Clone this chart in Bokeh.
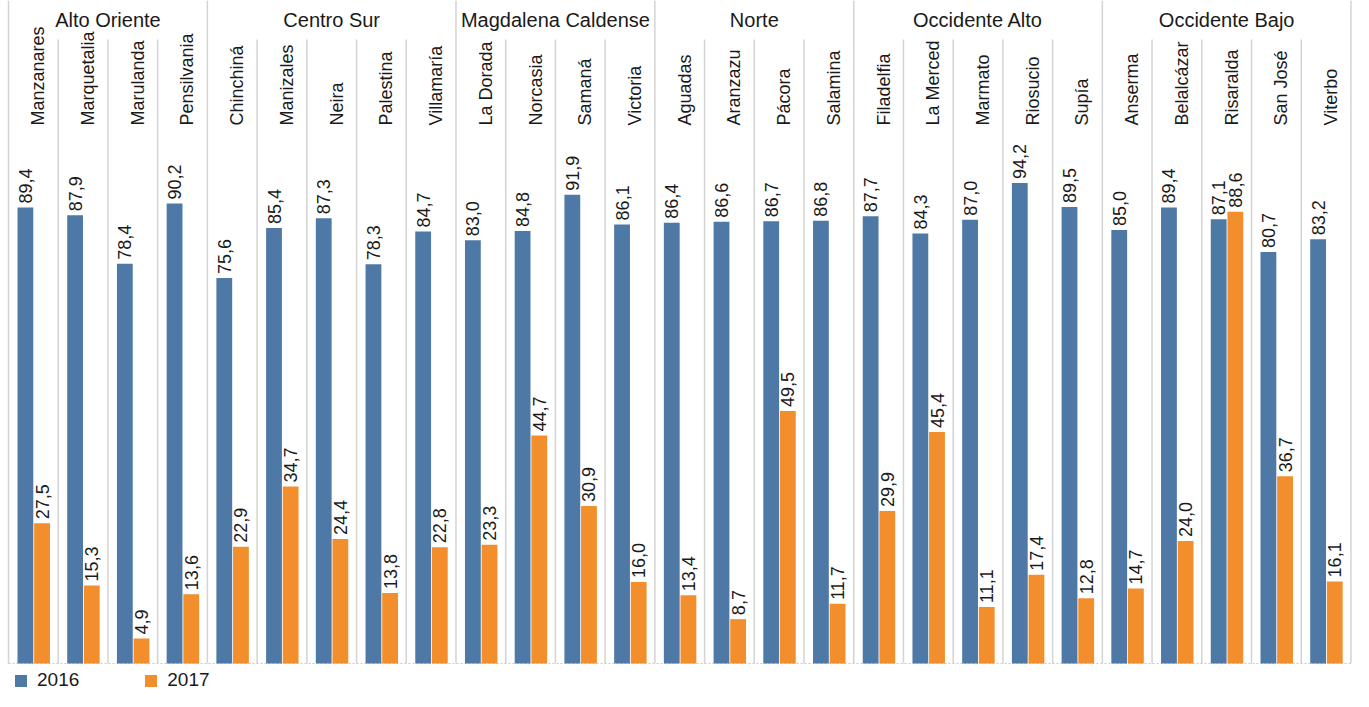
import numpy as np
from bokeh.plotting import figure
from bokeh.models import Range1d, ColumnDataSource, Legend, LegendItem
from bokeh.core.properties import value
from bokeh.embed import file_html
from bokeh.resources import INLINE

# ---------------- data ----------------
regions = ["Alto Oriente", "Centro Sur", "Magdalena Caldense", "Norte",
           "Occidente Alto", "Occidente Bajo"]
region_sizes = [4, 5, 4, 4, 5, 5]
municipios = ["Manzanares", "Marquetalia", "Marulanda", "Pensilvania",
              "Chinchiná", "Manizales", "Neira", "Palestina", "Villamaría",
              "La Dorada", "Norcasia", "Samaná", "Victoria",
              "Aguadas", "Aranzazu", "Pácora", "Salamina",
              "Filadelfia", "La Merced", "Marmato", "Riosucio", "Supía",
              "Anserma", "Belalcázar", "Risaralda", "San José", "Viterbo"]
v2016 = [89.4, 87.9, 78.4, 90.2,
         75.6, 85.4, 87.3, 78.3, 84.7,
         83.0, 84.8, 91.9, 86.1,
         86.4, 86.6, 86.7, 86.8,
         87.7, 84.3, 87.0, 94.2, 89.5,
         85.0, 89.4, 87.1, 80.7, 83.2]
v2017 = [27.5, 15.3, 4.9, 13.6,
         22.9, 34.7, 24.4, 13.8, 22.8,
         23.3, 44.7, 30.9, 16.0,
         13.4, 8.7, 49.5, 11.7,
         29.9, 45.4, 11.1, 17.4, 12.8,
         14.7, 24.0, 88.6, 36.7, 16.1]
series = ["2016", "2017"]

# ---------------- layout constants ----------------
W, H = 1353, 691
LEFT = 8            # px from frame left to first cell
CELL = 49.72        # px per cell
BASE = 663          # baseline, px from top of frame
S = 5.10            # px per unit
BLUE, ORANGE = "#4e79a7", "#f28e2b"
FONT = "Liberation Sans"
GRID = "#d3d3d3"
TXT = "#1a1a1a"


def ypx(px):
    """convert a px position from the frame top into data units"""
    return (BASE - px) / S


n = len(municipios)
idx = np.arange(n)
x0 = -LEFT / CELL

p = figure(width=W, height=H, output_backend="svg", toolbar_location=None,
           x_range=Range1d(x0, x0 + W / CELL), y_range=Range1d(ypx(H), ypx(0)),
           x_axis_location=None, y_axis_location=None,
           min_border=0, min_border_left=0, min_border_right=0,
           min_border_top=0, min_border_bottom=0)
p.grid.visible = False
p.outline_line_color = None
p.background_fill_color = "white"
p.border_fill_color = "white"

# separators
bounds = np.cumsum([0] + region_sizes)
region_b = list(bounds)
muni_b = [b for b in range(n + 1) if b not in region_b]
p.segment(x0=region_b, x1=region_b, y0=[ypx(0)] * len(region_b),
          y1=[0] * len(region_b), line_color=GRID, line_width=1.5)
p.segment(x0=muni_b, x1=muni_b, y0=[ypx(39)] * len(muni_b),
          y1=[0] * len(muni_b), line_color=GRID, line_width=1.5)

# baseline
p.segment(x0=[0], x1=[n], y0=[0], y1=[0], line_color="#c8c8c8",
          line_width=1, line_dash="2 2")

# bars
src = ColumnDataSource(dict(
    xb=idx + 0.34, xo=idx + 0.675, v16=v2016, v17=v2017,
    t16=[f"{v:.1f}".replace(".", ",") for v in v2016],
    t17=[f"{v:.1f}".replace(".", ",") for v in v2017],
    y16=[v + 4 / S for v in v2016], y17=[v + 4 / S for v in v2017],
))
r16 = p.vbar(x="xb", top="v16", bottom=0, width=0.318, source=src,
             fill_color=BLUE, line_color=None)
r17 = p.vbar(x="xo", top="v17", bottom=0, width=0.318, source=src,
             fill_color=ORANGE, line_color=None)

# value labels
for xcol, ycol, tcol in [("xb", "y16", "t16"), ("xo", "y17", "t17")]:
    p.text(x=xcol, y=ycol, text=tcol, source=src, angle=np.pi / 2,
           text_align="left", text_baseline="middle",
           text_font=value(FONT), text_font_size="18px", text_color=TXT)

# municipality header labels
p.text(x=idx + 0.6, y=[ypx(125)] * n, text=municipios, angle=np.pi / 2,
       text_align="left", text_baseline="middle",
       text_font=value(FONT), text_font_size="18px", text_color=TXT)

# region header labels
centers = [(bounds[i] + bounds[i + 1]) / 2 for i in range(len(regions))]
p.text(x=centers, y=[ypx(19)] * len(regions), text=regions,
       text_align="center", text_baseline="middle",
       text_font=value(FONT), text_font_size="20px", text_color=TXT)

legend = Legend(items=[LegendItem(label=series[0], renderers=[r16]),
                       LegendItem(label=series[1], renderers=[r17])],
                location=(13, 0), orientation="horizontal",
                glyph_width=15, glyph_height=15, label_standoff=9,
                label_text_font=FONT, label_text_font_size="19px",
                label_text_color=TXT, spacing=64, padding=0, margin=0,
                border_line_color=None, background_fill_alpha=0)
p.add_layout(legend)

open("out.html", "w").write(file_html(p, INLINE))
